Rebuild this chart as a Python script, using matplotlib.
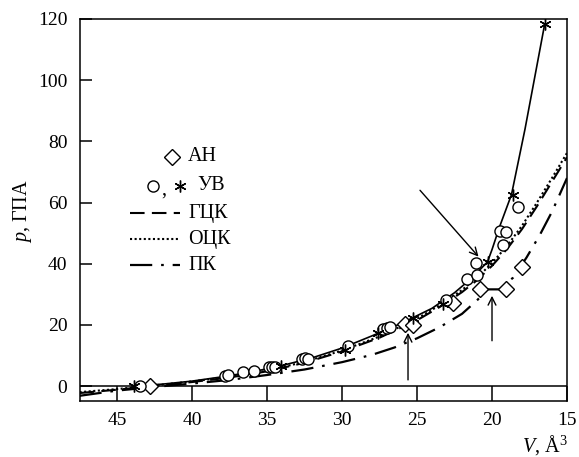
import matplotlib
matplotlib.use("Agg")
import matplotlib.pyplot as plt

plt.rcParams['font.family'] = ['Liberation Serif', 'DejaVu Serif']
plt.rcParams['mathtext.fontset'] = 'custom'
plt.rcParams['mathtext.rm'] = 'Liberation Serif'
plt.rcParams['mathtext.it'] = 'Liberation Serif:italic'

# ---- data ----
an_V = [42.8, 25.8, 25.3, 22.6, 20.8, 19.1, 18.0]
an_p = [0.0, 20.4, 19.8, 27.0, 31.8, 31.8, 39.0]

uv_circ_V = [43.5, 37.8, 37.6, 36.6, 35.9, 34.9, 34.7, 34.5, 32.7, 32.5, 32.3,
             29.6, 27.3, 27.0, 26.8, 23.1, 21.7, 21.0, 21.1, 19.5, 19.1, 19.3, 18.3]
uv_circ_p = [0.0, 3.3, 3.6, 4.6, 5.0, 6.2, 6.2, 6.2, 8.8, 9.2, 8.8,
             13.0, 18.7, 19.0, 19.3, 28.2, 35.0, 36.4, 40.3, 50.8, 50.2, 46.0, 58.4]

uv_star_V = [43.9, 34.1, 29.8, 27.6, 25.3, 23.3, 20.3, 18.6, 16.5]
uv_star_p = [0.0, 6.6, 11.8, 17.2, 22.4, 26.8, 40.6, 62.6, 118.4]

uv_fit_V = [44, 42, 40, 38, 36, 34, 32, 30, 28, 26, 24, 22.5, 21.3, 20.3, 20.0, 19.5, 18.7, 17.8, 16.5]
uv_fit_p = [0.0, 0.6, 1.6, 3.0, 4.6, 6.7, 9.2, 12.4, 16.4, 20.6, 25.4, 30.5, 35.5, 40.6, 44.6, 52.0, 62.6, 84.0, 118.0]

gck_V = [47.5, 45, 42.5, 40, 37.5, 35, 32.5, 30, 27.5, 25, 23.5, 22, 21, 20, 19, 18, 17, 16, 15]
gck_p = [-2.3, -1.2, 0.0, 1.3, 2.8, 4.8, 7.6, 11.3, 15.8, 21.5, 25.8, 30.7, 34.6, 39.3, 44.8, 51.3, 58.8, 66.8, 74.8]

ock_V = [47.5, 45, 42.5, 40, 37.5, 35, 32.5, 30, 27.5, 25, 23.5, 22, 21, 20, 19, 18, 17, 16, 15]
ock_p = [-2.0, -1.0, 0.2, 1.5, 3.0, 5.0, 7.9, 11.6, 16.2, 22.0, 26.4, 31.4, 35.4, 40.2, 45.8, 52.4, 60.0, 68.0, 76.2]

pk_V = [47.5, 45, 42.5, 40, 37.5, 35, 32.5, 30, 28, 26.5, 25, 23.5, 22, 21, 20.3, 19.5, 18.6, 17.7, 16.8, 16, 15]
pk_p = [-3.2, -1.5, -0.3, 0.8, 2.0, 3.6, 5.4, 7.8, 10.2, 12.6, 15.6, 19.2, 23.6, 28.0, 31.6, 31.6, 35.4, 42.0, 49.5, 57.0, 68.0]

x_ticks = [45, 40, 35, 30, 25, 20, 15]
y_ticks = [0, 20, 40, 60, 80, 100, 120]

# ---- figure ----
fig = plt.figure(figsize=(5.79, 4.57), dpi=100)
ax = fig.add_axes([80/579, 56/457, 487/579, 382/457])

ax.plot(gck_V, gck_p, color='black', lw=1.5, ls=(0, (7, 3.5)))
ax.plot(ock_V, ock_p, color='black', lw=1.5, ls=(0, (1, 1.2)))
ax.plot(pk_V, pk_p, color='black', lw=1.6, ls=(0, (10, 4, 1.2, 4)))
ax.plot(uv_fit_V, uv_fit_p, color='black', lw=1.2, ls='-')

ax.axhline(0, color='black', lw=1.1)

ax.plot(an_V, an_p, ls='none', marker='D', ms=8, mfc='white', mec='black', mew=1.0, zorder=5)
ax.plot(uv_circ_V, uv_circ_p, ls='none', marker='o', ms=8, mfc='white', mec='black', mew=1.0, zorder=5)
ax.plot(uv_star_V, uv_star_p, ls='none', marker=(6, 2, 0), ms=8.5, mfc='black', mec='black', mew=1.0, zorder=6)

# arrows
arrow = dict(arrowstyle='->', color='black', lw=1.0, mutation_scale=14, shrinkA=0, shrinkB=0)
ax.annotate('', xy=(20.9, 42.3), xytext=(24.8, 64.0), arrowprops=arrow)
ax.annotate('', xy=(25.6, 17.4), xytext=(25.6, 2.0), arrowprops=arrow)
ax.annotate('', xy=(20.0, 29.5), xytext=(20.0, 14.8), arrowprops=arrow)

ax.set_xlim(47.47, 15)
ax.set_ylim(-4.9, 120)
ax.set_xticks(x_ticks)
ax.set_yticks(y_ticks)
ax.tick_params(axis='x', direction='in', length=11, width=1.1, labelsize=14, pad=8)
ax.tick_params(axis='y', direction='in', length=8.5, width=1.1, labelsize=14, pad=9)
for s in ax.spines.values():
    s.set_linewidth(1.1)

ax.text(-0.118, 0.497, '$p$, ГПА', transform=ax.transAxes, rotation=90,
        ha='center', va='center', fontsize=14.5)
ax.text(0.955, -0.115, '$V$, Å$^3$', transform=ax.transAxes,
        ha='center', va='center', fontsize=14.5)

# manual legend
T = ax.transAxes
fs = 14.5
ax.plot([0.189], [0.639], transform=T, marker='D', ms=8, mfc='white', mec='black', mew=1.0, ls='none')
ax.text(0.222, 0.639, 'АН', transform=T, va='center', fontsize=fs)
ax.plot([0.150], [0.563], transform=T, marker='o', ms=8, mfc='white', mec='black', mew=1.0, ls='none')
ax.text(0.166, 0.553, ',', transform=T, va='center', fontsize=fs)
ax.plot([0.205], [0.563], transform=T, marker=(6, 2, 0), ms=8.5, mec='black', mew=1.0, ls='none')
ax.text(0.240, 0.563, 'УВ', transform=T, va='center', fontsize=fs)
ax.plot([0.103, 0.205], [0.492, 0.492], transform=T, color='black', lw=1.5, ls=(0, (7, 3.5)))
ax.text(0.222, 0.492, 'ГЦК', transform=T, va='center', fontsize=fs)
ax.plot([0.103, 0.205], [0.424, 0.424], transform=T, color='black', lw=1.5, ls=(0, (1, 1.2)))
ax.text(0.222, 0.424, 'ОЦК', transform=T, va='center', fontsize=fs)
ax.plot([0.103, 0.205], [0.356, 0.356], transform=T, color='black', lw=1.6, ls=(0, (10, 4, 1.2, 4)))
ax.text(0.222, 0.356, 'ПК', transform=T, va='center', fontsize=fs)

fig.savefig('out.png', dpi=100)
